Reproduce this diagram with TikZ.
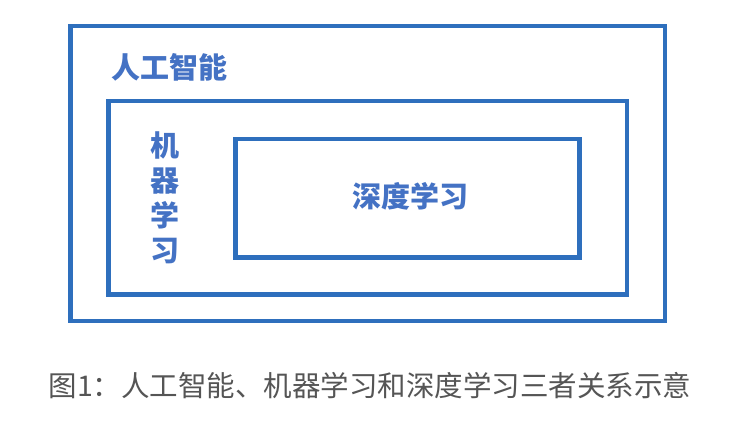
\documentclass[tikz,border=0pt]{standalone}
\usepackage{fontspec}
\usepackage{xcolor}
\newfontfamily\cjk{Noto Sans CJK SC}
\definecolor{frameblue}{HTML}{2E6FBD}
\definecolor{labelblue}{HTML}{4472C4}
\definecolor{captiongray}{HTML}{555555}
\tikzstyle{frame} = [draw=frameblue, line width=4.5pt, rectangle, inner sep=0pt]

\begin{document}
\begin{tikzpicture}[x=1pt, y=-1pt]
			\tikzset{label/.style={text=labelblue, inner sep=0pt, font=\cjk\bfseries\fontsize{29}{35}\selectfont}}
\useasboundingbox[fill=white] (0,0) rectangle (742,444);

\node[frame, minimum width=594.5pt, minimum height=295pt] (ai) at (367.75,173.5) {};
\node[frame, minimum width=518.5pt, minimum height=193.5pt] (ml) at (367.75,197.75) {};
\node[frame, minimum width=344.2pt, minimum height=118.5pt] (dl) at (407.6,198.25) {};

\node[label] (ailabel) at (169.5,67.5) {人工智能};
\node[label, align=center] (mllabel) at (165,197.5) {机\\器\\学\\习};
\node[label] (dllabel) at (410.5,196) {深度学习};

\node[text=captiongray, inner sep=0pt, font=\cjk\fontsize{28.5}{34}\selectfont] (caption) at (370,386) {图1：人工智能、机器学习和深度学习三者关系示意};

		\end{tikzpicture}
\end{document}
